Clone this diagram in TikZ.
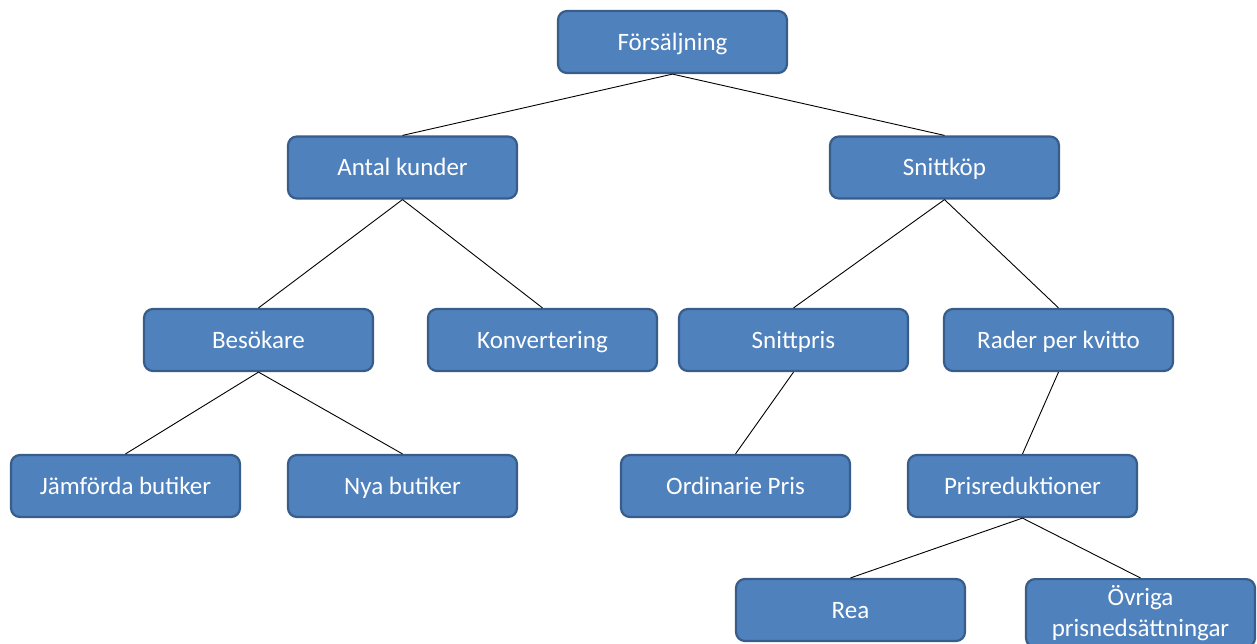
\documentclass[tikz,border=0pt]{standalone}
\usepackage{fontspec}
\setmainfont{Carlito}
\begin{document}
\begin{tikzpicture}[x=1pt,y=-1pt,
  box/.style={draw=boxedge, fill=boxfill, line width=2.2pt, rounded corners=9pt,
    minimum width=229pt, minimum height=62pt, inner sep=0pt, text=white,
    font=\fontsize{25}{31.5}\selectfont, align=center,
    text height=20pt, text depth=4pt},
  link/.style={draw=black, line width=0.9pt}]
\definecolor{boxfill}{HTML}{4F81BD}
\definecolor{boxedge}{HTML}{385D8A}
\useasboundingbox (0,0) rectangle (1257,643);
\clip (0,0) rectangle (1257,643);
\node[box] (fors) at (672.5,42) {Försäljning};
\node[box] (antal) at (402.5,167.5) {Antal kunder};
\node[box] (snittkop) at (944.5,167.5) {Snittköp};
\node[box] (besok) at (258.5,340) {Besökare};
\node[box] (konv) at (542.5,340) {Konvertering};
\node[box] (snittpris) at (793.5,340) {Snittpris};
\node[box] (rader) at (1058.5,340) {Rader per kvitto};
\node[box] (jamf) at (125.5,486) {Jämförda butiker};
\node[box] (nya) at (402.5,486) {Nya butiker};
\node[box] (ordin) at (735.5,486) {Ordinarie Pris};
\node[box] (prisred) at (1022.5,486) {Prisreduktioner};
\node[box] (rea) at (850.5,610) {Rea};
\node[box, minimum height=68pt, anchor=north, text height=, text depth=] (ovr) at (1140.5,578) {Övriga\\prisnedsättningar};
\draw[link] (fors.south) -- (antal.north);
\draw[link] (fors.south) -- (snittkop.north);
\draw[link] (antal.south) -- (besok.north);
\draw[link] (antal.south) -- (konv.north);
\draw[link] (snittkop.south) -- (snittpris.north);
\draw[link] (snittkop.south) -- (rader.north);
\draw[link] (besok.south) -- (jamf.north);
\draw[link] (besok.south) -- (nya.north);
\draw[link] (snittpris.south) -- (ordin.north);
\draw[link] (rader.south) -- (prisred.north);
\draw[link] (prisred.south) -- (rea.north);
\draw[link] (prisred.south) -- (ovr.north);
\end{tikzpicture}
\end{document}
